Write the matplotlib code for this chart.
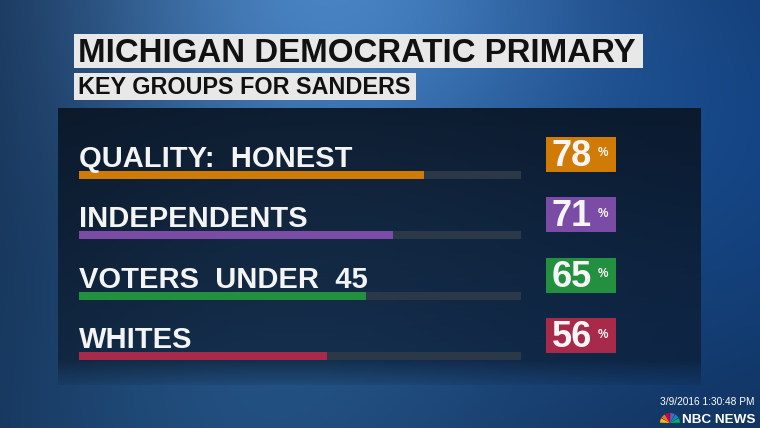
import numpy as np
import matplotlib.pyplot as plt
from matplotlib import font_manager
from matplotlib.patches import Rectangle, Wedge

plt.rcParams['font.family'] = ['Liberation Sans', 'DejaVu Sans']

title = 'MICHIGAN DEMOCRATIC PRIMARY'
subtitle = 'KEY GROUPS FOR SANDERS'
groups = ['QUALITY:  HONEST', 'INDEPENDENTS', 'VOTERS  UNDER  45', 'WHITES']
values = [78, 71, 65, 56]
colors = ['#d07b06', '#7a4ca6', '#23903f', '#a82a4b']
stamp = '3/9/2016 1:30:48 PM'
brand = 'NBC NEWS'

# condensed face for the row labels if it is there
installed = {f.name for f in font_manager.fontManager.ttflist}
if 'Liberation Sans Narrow' in installed:
    label_font, label_size = ['Liberation Sans Narrow', 'DejaVu Sans'], 24
else:
    label_font, label_size = ['Liberation Sans', 'DejaVu Sans'], 21

W, H = 760, 428
fig = plt.figure(figsize=(7.6, 4.28), dpi=100)

# background: blue gradient in pixel coords
bg = fig.add_axes([0, 0, 1, 1])
bg.set_xlim(0, W)
bg.set_ylim(H, 0)
bg.axis('off')

yy, xx = np.mgrid[0:H, 0:W].astype(float)
rgb = np.ones((H, W, 3)) * np.array([0.06, 0.15, 0.27])
g1 = np.exp(-((xx - 320) ** 2 + (yy + 40) ** 2) / (2 * 190 ** 2))
g2 = np.exp(-((xx - 760) ** 2 + (yy - 140) ** 2) / (2 * 230 ** 2))
g3 = np.exp(-((xx - 250) ** 2 + (yy - 460) ** 2) / (2 * 220 ** 2))
rgb += g1[..., None] * np.array([0.22, 0.34, 0.45])
rgb += g2[..., None] * np.array([0.01, 0.10, 0.22])
rgb += g3[..., None] * np.array([0.06, 0.14, 0.20])
bg.imshow(np.clip(rgb, 0, 1), extent=[0, W, H, 0], aspect='auto', zorder=0)

# dark panel behind the bars
ph = 277
panel = np.zeros((ph, 1, 4))
panel[..., 0], panel[..., 1], panel[..., 2] = 0.04, 0.09, 0.15
alpha = np.linspace(0.93, 0.55, ph)
alpha[-25:] *= np.linspace(1, 0.2, 25)
panel[:, 0, 3] = alpha
bg.imshow(panel, extent=[58, 701, 108 + ph, 108], aspect='auto', zorder=1)

# title boxes
bg.add_patch(Rectangle((74, 34), 569, 34, fc='#e8e8e8', ec='none', zorder=2))
bg.add_patch(Rectangle((74, 73), 342, 27, fc='#e8e8e8', ec='none', zorder=2))
bg.text(78, 62, title, fontsize=23.8, fontweight='bold', color='#111111',
        va='baseline', ha='left', zorder=3)
bg.text(78, 94, subtitle, fontsize=16.8, fontweight='bold', color='#111111',
        va='baseline', ha='left', zorder=3)

# footer
bg.text(755, 405, stamp, fontsize=7.3, color='white', ha='right', va='baseline', zorder=3)
bg.text(755, 423, brand, fontsize=9.7, fontweight='bold', color='white',
        ha='right', va='baseline', zorder=3)
feathers = ['#fcb711', '#f37021', '#cc004c', '#6460aa', '#0089d0', '#0db14b']
for k, c in enumerate(feathers):
    bg.add_patch(Wedge((670, 423), 10, 180 + k * 30 + 2, 180 + (k + 1) * 30 - 2,
                       fc=c, ec='none', zorder=3))

# bars, x axis 0..100 maps onto the track
ax = fig.add_axes([79 / W, (H - 386) / H, (521 - 79) / W, (386 - 114) / H])
ax.set_xlim(0, 100)
ax.set_ylim(3.488, -1.008)
ax.axis('off')
ax.patch.set_alpha(0)

ypos = np.arange(len(values))
ax.barh(ypos, [100] * len(values), height=0.132, color='#2b3848', zorder=1)
ax.barh(ypos, values, height=0.132, color=colors, zorder=2)

for i, (lab, v, c) in enumerate(zip(groups, values, colors)):
    ax.text(0, i - 0.132, lab, fontsize=label_size, fontweight='bold', color='#f4f4f4',
            family=label_font, va='baseline', ha='left')
    ax.add_patch(Rectangle((105.66, i - 0.628), 15.84, 0.578, fc=c, ec='none',
                           clip_on=False, zorder=3))
    ax.text(106.9, i - 0.149, str(v), fontsize=26, fontweight='bold', color='#f6f6f6',
            va='baseline', ha='left', clip_on=False, zorder=4)
    ax.text(117.3, i - 0.31, '%', fontsize=8.5, fontweight='bold', color='#f6f6f6',
            va='baseline', ha='left', clip_on=False, zorder=4)

fig.savefig('out.png', dpi=100)
